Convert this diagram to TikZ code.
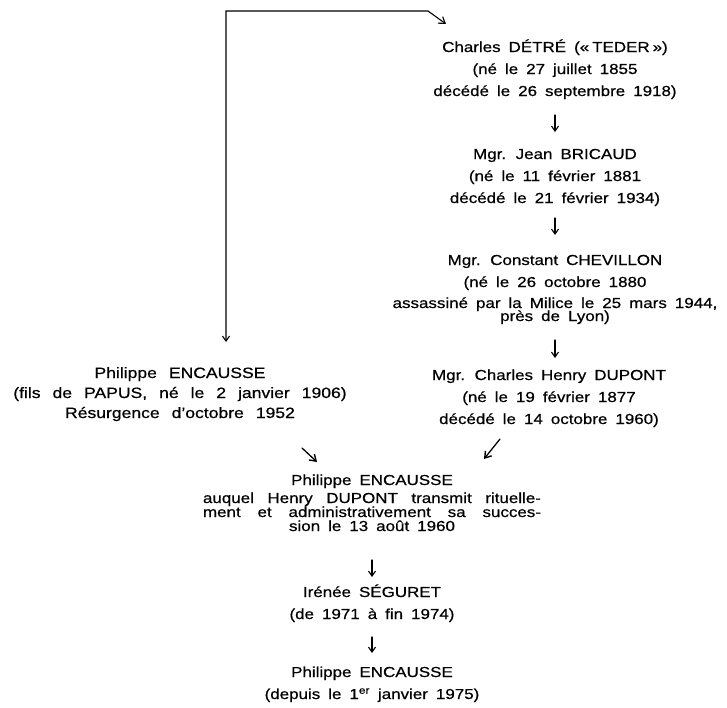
\documentclass[tikz,border=0pt]{standalone}
\usepackage{fontspec}
\setmainfont{Liberation Sans}[FakeStretch=1.17,FakeBold=0.6]
\usetikzlibrary{arrows.meta}
\newcommand\blockfont{\fontsize{14.5}{22}\selectfont\spaceskip=8pt plus 4pt minus 2pt\relax}
\newcommand\leftfont{\fontsize{15}{20}\selectfont\spaceskip=12pt plus 4pt minus 2pt\relax}
\newcommand\tightfont{\fontsize{14.5}{14}\selectfont\spaceskip=8pt plus 8pt minus 2pt\relax}
\begin{document}
\begin{tikzpicture}[x=1pt,y=1pt,
  txt/.style={inner sep=0pt, align=center, anchor=base, font=\blockfont},
  arr/.style={-{Straight Barb[length=5pt,width=7pt]}, line width=1.1pt, line cap=round},
  diag/.style={-{Straight Barb[length=6pt,width=8pt,line width=1.4pt]}, line width=1.3pt, line cap=round},
  darr/.style={{Straight Barb[length=5pt,width=7pt]}-{Straight Barb[length=6pt,width=8pt]}, line width=1.1pt}]
\useasboundingbox (0,0) rectangle (727,-707);
% right column (base = baseline of last line)
\node[txt] (charles) at (555,-96) {Charles DÉTRÉ («\hspace{3pt}TEDER\hspace{3pt}»)\\(né le 27 juillet 1855\\décédé le 26 septembre 1918)};
\node[txt] (bricaud) at (555,-203) {Mgr. Jean BRICAUD\\(né le 11 février 1881\\décédé le 21 février 1934)};
\node[txt] (chevillon) at (555,-321) {Mgr. Constant CHEVILLON\\(né le 26 octobre 1880\\[-1pt]assassiné par la Milice le 25 mars 1944,\\[-9pt]près de Lyon)};
\node[txt] (dupont) at (549,-424) {Mgr. Charles Henry DUPONT\\(né le 19 février 1877\\décédé le 14 octobre 1960)};
% left column
\node[txt, font=\leftfont] (left) at (180,-418) {Philippe ENCAUSSE\\(fils de PAPUS, né le 2 janvier 1906)\\Résurgence d'octobre 1952};
% centre column
\node[txt, font=\tightfont] (centre) at (372,-531) {Philippe ENCAUSSE\\[4pt]\makebox[338pt][s]{auquel Henry DUPONT transmit rituelle-}\\\makebox[338pt][s]{ment et administrativement sa succes-}\\sion le 13 août 1960};
\node[txt] (seguret) at (372,-619) {Irénée SÉGURET\\(de 1971 à fin 1974)};
\node[txt] (final) at (372,-699) {Philippe ENCAUSSE\\(depuis le 1\textsuperscript{er} janvier 1975)};
% connectors
\draw[arr] ([yshift=-19pt]charles.base) -- ([yshift=71pt]bricaud.base);
\draw[arr] ([yshift=-15pt]bricaud.base) -- ([yshift=86pt]chevillon.base);
\draw[arr] ([yshift=-19pt]chevillon.base) -- ([yshift=66pt]dupont.base -| chevillon.base);
\draw[diag] ([xshift=-49pt,yshift=-15pt]dupont.base) -- ([xshift=112pt,yshift=72pt]centre.base);
\draw[diag] ([xshift=122pt,yshift=-30pt]left.base) -- ([xshift=-55pt,yshift=69pt]centre.base);
\draw[arr] ([yshift=-29pt]centre.base) -- ([yshift=42pt]seguret.base);
\draw[arr] ([yshift=-18pt]seguret.base) -- ([yshift=46pt]final.base);
\coordinate (corner) at (428,-11);
\draw[darr] ([xshift=46pt,yshift=76pt]left.base) |- (corner) -- ([xshift=-109pt,yshift=72pt]charles.base);
\end{tikzpicture}
\end{document}
